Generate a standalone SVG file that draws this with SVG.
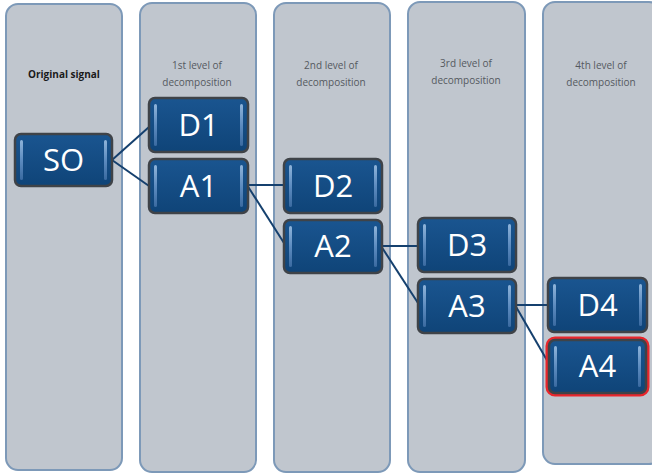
<svg xmlns="http://www.w3.org/2000/svg" width="652" height="476" viewBox="0 0 652 476">
<defs>
<linearGradient id="g" x1="0" y1="0" x2="0" y2="1">
<stop offset="0" stop-color="#1a5590"/>
<stop offset="1" stop-color="#0f4478"/>
</linearGradient>
<linearGradient id="bev" x1="0" y1="0" x2="0" y2="1">
<stop offset="0" stop-color="#8fb4da"/>
<stop offset="0.5" stop-color="#5d8cc0"/>
<stop offset="1" stop-color="#3a6aa0"/>
</linearGradient>
</defs>
<style>
.col{fill:#c0c6ce;stroke:#7d99b8;stroke-width:2}
.hd{font-family:"Open Sans","Liberation Sans",sans-serif;font-size:10px;fill:#55595f;text-anchor:middle}
.hdb{font-family:"Open Sans","Liberation Sans",sans-serif;font-size:10px;fill:#1a1a1a;font-weight:bold;text-anchor:middle}
.box{fill:url(#g);stroke:#3f4348;stroke-width:2.5}
.bv{fill:url(#bev)}
.lbl{font-family:"Open Sans","Liberation Sans",sans-serif;font-size:31px;fill:#fff;text-anchor:middle}
.cn{stroke:#15406e;stroke-width:2;fill:none}
</style>
<g id="columns">
<rect class="col" x="6" y="4" width="116" height="466" rx="12"/>
<rect class="col" x="140" y="3" width="116" height="469" rx="12"/>
<rect class="col" x="274" y="3" width="116" height="469" rx="12"/>
<rect class="col" x="408" y="2" width="117" height="470" rx="12"/>
<rect class="col" x="543" y="2" width="118" height="462" rx="12"/>
</g>
<g id="headers">
<text class="hdb" x="64" y="78">Original signal</text>
<text class="hd" x="197" y="69">1st level of</text>
<text class="hd" x="197" y="86">decomposition</text>
<text class="hd" x="331" y="69">2nd level of</text>
<text class="hd" x="331" y="86">decomposition</text>
<text class="hd" x="466" y="67">3rd level of</text>
<text class="hd" x="466" y="84">decomposition</text>
<text class="hd" x="601" y="69">4th level of</text>
<text class="hd" x="601" y="86">decomposition</text>
</g>
<g id="connectors">
<line class="cn" x1="112" y1="160" x2="149" y2="127"/>
<line class="cn" x1="112" y1="160" x2="149" y2="186"/>
<line class="cn" x1="247" y1="185" x2="284" y2="185"/>
<line class="cn" x1="247" y1="185" x2="284" y2="243"/>
<line class="cn" x1="381" y1="246" x2="418" y2="246"/>
<line class="cn" x1="381" y1="246" x2="418" y2="303"/>
<line class="cn" x1="515" y1="305" x2="548" y2="305"/>
<line class="cn" x1="515" y1="305" x2="548" y2="362"/>
</g>
<g id="SO">
<rect class="box" x="15" y="134" width="97" height="52" rx="6"/>
<rect class="bv" x="20" y="140" width="3" height="40" rx="1.5"/>
<rect class="bv" x="104" y="140" width="3" height="40" rx="1.5"/>
<text class="lbl" x="63.5" y="171">SO</text>
</g>
<g id="D1">
<rect class="box" x="149" y="98" width="99" height="54" rx="6"/>
<rect class="bv" x="154" y="104" width="3" height="42" rx="1.5"/>
<rect class="bv" x="240" y="104" width="3" height="42" rx="1.5"/>
<text class="lbl" x="198.5" y="136">D1</text>
</g>
<g id="A1">
<rect class="box" x="149" y="159" width="99" height="54" rx="6"/>
<rect class="bv" x="154" y="165" width="3" height="42" rx="1.5"/>
<rect class="bv" x="240" y="165" width="3" height="42" rx="1.5"/>
<text class="lbl" x="198.5" y="197">A1</text>
</g>
<g id="D2">
<rect class="box" x="284" y="159" width="98" height="54" rx="6"/>
<rect class="bv" x="289" y="165" width="3" height="42" rx="1.5"/>
<rect class="bv" x="374" y="165" width="3" height="42" rx="1.5"/>
<text class="lbl" x="333" y="197">D2</text>
</g>
<g id="A2">
<rect class="box" x="284" y="220" width="98" height="53" rx="6"/>
<rect class="bv" x="289" y="226" width="3" height="41" rx="1.5"/>
<rect class="bv" x="374" y="226" width="3" height="41" rx="1.5"/>
<text class="lbl" x="333" y="257">A2</text>
</g>
<g id="D3">
<rect class="box" x="418" y="218" width="98" height="54" rx="6"/>
<rect class="bv" x="423" y="224" width="3" height="42" rx="1.5"/>
<rect class="bv" x="508" y="224" width="3" height="42" rx="1.5"/>
<text class="lbl" x="467" y="256">D3</text>
</g>
<g id="A3">
<rect class="box" x="418" y="279" width="98" height="54" rx="6"/>
<rect class="bv" x="423" y="285" width="3" height="42" rx="1.5"/>
<rect class="bv" x="508" y="285" width="3" height="42" rx="1.5"/>
<text class="lbl" x="467" y="317">A3</text>
</g>
<g id="D4">
<rect class="box" x="548" y="278" width="99" height="54" rx="6"/>
<rect class="bv" x="553" y="284" width="3" height="42" rx="1.5"/>
<rect class="bv" x="639" y="284" width="3" height="42" rx="1.5"/>
<text class="lbl" x="597.5" y="316">D4</text>
</g>
<g id="A4">
<rect x="547" y="338" width="101" height="57" rx="8" fill="none" stroke="#e8262c" stroke-width="3"/>
<rect class="box" x="549" y="340" width="97" height="53" rx="6" stroke="#0f4478"/>
<rect class="bv" x="554" y="346" width="3" height="41" rx="1.5"/>
<rect class="bv" x="638" y="346" width="3" height="41" rx="1.5"/>
<text class="lbl" x="597.5" y="377">A4</text>
</g>
</svg>
